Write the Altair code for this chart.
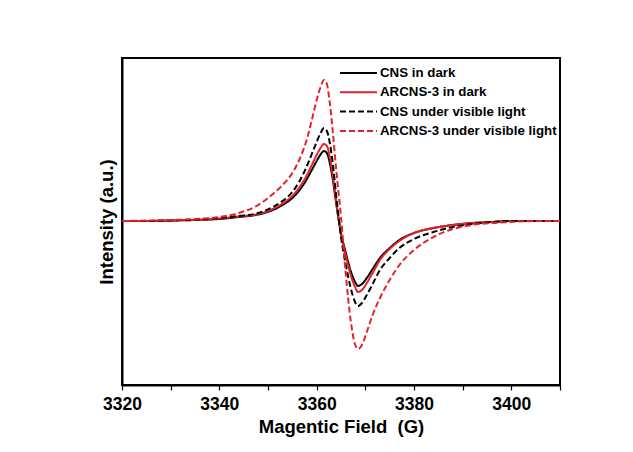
import altair as alt
import pandas as pd

field = [3320, 3325, 3330, 3335, 3340, 3344, 3348, 3351, 3353, 3355, 3356.5, 3358,
         3359, 3360, 3360.8, 3361.5, 3362.1, 3362.7, 3363.3, 3364, 3365, 3366, 3367,
         3367.8, 3368.5, 3369.3, 3370.3, 3371.5, 3373, 3375, 3377, 3380, 3384, 3388,
         3392, 3396, 3400, 3405, 3410]

cns_dark = [0, 0, 0.5, 1, 2, 4, 6.5, 11, 16, 23, 31, 42, 51, 60, 66.5, 70, 68, 58, 42,
            18, -12, -32, -50, -60, -65, -63, -57, -48, -37, -27, -19, -12, -7, -4, -2,
            -1, 0, 0, 0]
arcns_dark = [0, 0, 0.5, 1, 2.5, 4.5, 7, 12, 17.5, 25, 34, 46, 56, 66, 73, 77, 75, 64,
              46, 20, -13, -35, -54, -65, -71, -69, -62, -52, -39, -28, -20, -12, -7, -4,
              -2, -1, 0, 0, 0]
cns_light = [0, 0, 0.5, 1.5, 3, 5, 8, 14, 20, 29, 40, 55, 67, 79, 88, 93, 90, 78, 58,
             26, -16, -44, -67, -80, -85, -82, -74, -63, -49, -37, -27, -18, -11, -6, -3,
             -1, 0, 0, 0]
arcns_light = [0, 0.5, 1, 2, 4, 8, 16, 27, 36, 48, 62, 82, 101, 121, 134, 141, 137, 118,
               90, 52, 4, -54, -100, -122, -128, -124, -111, -94, -77, -59, -44, -29, -16,
               -8, -4, -2, -1, 0, 0]

series_names = ["CNS in dark", "ARCNS-3 in dark", "CNS under visible light",
                "ARCNS-3 under visible light"]
series_values = [cns_dark, arcns_dark, cns_light, arcns_light]
colors = ["#000000", "#e3232b", "#000000", "#e3232b"]
dashes = [[1, 0], [1, 0], [6, 3], [6, 3]]

rows = []
for name, vals in zip(series_names, series_values):
    for i, (f, v) in enumerate(zip(field, vals)):
        rows.append({"field": f, "value": v, "series": name, "order": i})
df = pd.DataFrame(rows)

FONT = "Liberation Sans"

legend = alt.Legend(
    orient="none", legendX=217, legendY=8, title=None,
    symbolType="stroke", symbolSize=1369, symbolStrokeWidth=2,
    clipHeight=14, rowPadding=5.3, padding=0, labelLimit=0,
    labelFont=FONT, labelFontWeight="bold", labelFontSize=13.3,
    labelColor="black", labelOffset=2,
)

chart = alt.Chart(df).mark_line(strokeWidth=2, interpolate="monotone").encode(
    x=alt.X("field:Q",
            scale=alt.Scale(domain=[3320, 3410], nice=False, zero=False),
            axis=alt.Axis(title="Magentic Field\u00a0 (G)",
                          values=list(range(3320, 3411, 10)),
                          labelExpr="datum.value % 20 == 0 ? datum.label : ''",
                          format="d", grid=False, domainColor="black", domainWidth=2,
                          tickColor="black", tickWidth=1.2, tickSize=5,
                          labelFont=FONT, labelFontWeight="bold", labelFontSize=17.5,
                          labelColor="black", labelPadding=5, labelFlush=False,
                          titleFont=FONT, titleFontWeight="bold", titleFontSize=18.5,
                          titleColor="black", titlePadding=5)),
    y=alt.Y("value:Q",
            scale=alt.Scale(domain=[-164, 163], nice=False, zero=False),
            axis=alt.Axis(title="Intensity (a.u.)", labels=False, ticks=False,
                          grid=False, domainColor="black", domainWidth=2,
                          titleFont=FONT, titleFontWeight="bold", titleFontSize=18.5,
                          titleColor="black", titlePadding=6)),
    color=alt.Color("series:N", scale=alt.Scale(domain=series_names, range=colors),
                    legend=legend, sort=series_names),
    strokeDash=alt.StrokeDash("series:N",
                              scale=alt.Scale(domain=series_names, range=dashes),
                              legend=legend, sort=series_names),
    order="order:Q",
).properties(
    width=438, height=327,
    background="white",
    autosize=alt.AutoSizeParams(type="none"),
    padding={"left": 122, "top": 58, "right": 73, "bottom": 67},
).configure_view(
    stroke="black", strokeWidth=2
)

chart.save("out.html", embed_options={"renderer": "svg", "actions": False})
